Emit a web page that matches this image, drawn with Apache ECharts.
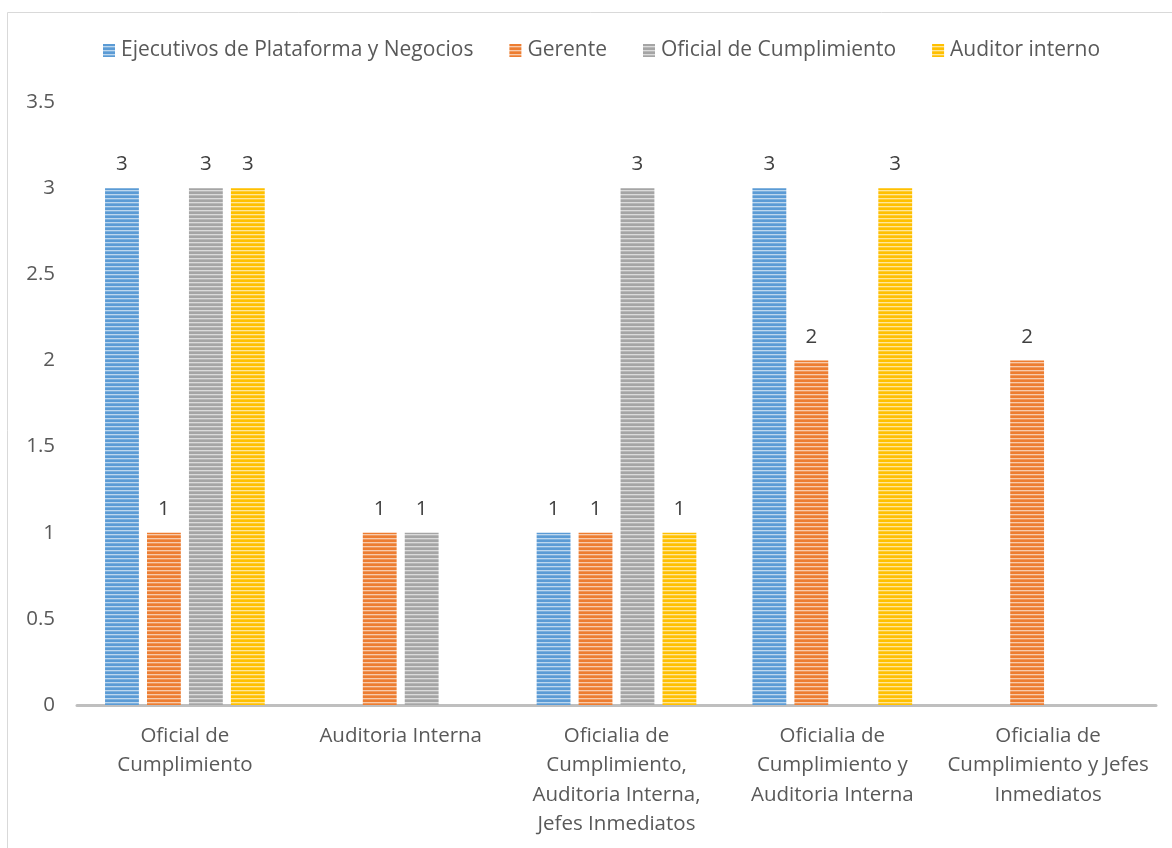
<!DOCTYPE html>
<html>
<head>
<meta charset="utf-8">
<script src="https://cdn.jsdelivr.net/npm/echarts@6/dist/echarts.min.js"></script>
<style>
  html, body { margin: 0; padding: 0; background: #fff; }
  #chart { width: 1172px; height: 848px; }
</style>
</head>
<body>
<div id="chart"></div>
<script>
// Categories along the x axis
const categories = [
  'Oficial de\nCumplimiento',
  'Auditoria Interna',
  'Oficialia de\nCumplimiento,\nAuditoria Interna,\nJefes Inmediatos',
  'Oficialia de\nCumplimiento y\nAuditoria Interna',
  'Oficialia de\nCumplimiento y Jefes\nInmediatos'
];

// Series values (null = no bar)
const ejecutivos = [3, null, 1, 3, null];
const gerente = [1, 1, 1, 2, 2];
const oficial = [3, 1, 3, null, null];
const auditor = [3, null, 1, 3, null];

const seriesNames = ['Ejecutivos de Plataforma y Negocios', 'Gerente', 'Oficial de Cumplimiento', 'Auditor interno'];
const seriesColors = ['#5B9BD5', '#ED7D31', '#A5A5A5', '#FFC000'];

const FONT = '"Open Sans", sans-serif';
const FS = 20.5;

// Horizontal stripe fill for each bar colour
function stripes(hex) {
  const c = document.createElement('canvas');
  c.width = 4; c.height = 4;
  const ctx = c.getContext('2d');
  ctx.fillStyle = hex;
  ctx.fillRect(0, 0, 4, 4);
  ctx.fillStyle = 'rgba(255,255,255,0.6)';
  ctx.fillRect(0, 2, 4, 1);
  ctx.fillStyle = 'rgba(255,255,255,0.2)';
  ctx.fillRect(0, 3, 4, 1);
  return { image: c, repeat: 'repeat' };
}

const data = [ejecutivos, gerente, oficial, auditor];

const chart = echarts.init(document.getElementById('chart'), null, { renderer: 'canvas' });
chart.setOption({
  animation: false,
  backgroundColor: '#fff',
  graphic: [{
    type: 'rect',
    shape: { x: 7.5, y: 12.5, width: 1200, height: 900 },
    style: { fill: 'none', stroke: '#D9D9D9', lineWidth: 1 },
    silent: true
  }],
  legend: {
    top: 40,
    left: 103,
    padding: 0,
    icon: 'rect',
    itemWidth: 12,
    itemHeight: 13,
    itemGap: 36,
    textStyle: { fontFamily: FONT, fontSize: 21, color: '#595959', padding: [0, 0, 0, 1] },
    data: seriesNames
  },
  grid: { left: 77, right: 16, top: 102, bottom: 143 },
  xAxis: {
    type: 'category',
    data: categories,
    axisLine: { show: true, lineStyle: { color: '#BFBFBF', width: 3 } },
    axisTick: { show: false },
    axisLabel: {
      interval: 0,
      margin: 16,
      fontFamily: FONT,
      fontSize: FS,
      lineHeight: 29.5,
      color: '#595959'
    }
  },
  yAxis: {
    type: 'value',
    min: 0,
    max: 3.5,
    interval: 0.5,
    axisLine: { show: false },
    axisTick: { show: false },
    splitLine: { show: false },
    axisLabel: { margin: 22, fontFamily: FONT, fontSize: FS, color: '#595959' }
  },
  series: seriesNames.map((name, i) => ({
    name: name,
    type: 'bar',
    data: data[i],
    barGap: '24%',
    barCategoryGap: '26%',
    itemStyle: { color: stripes(seriesColors[i]) },
    label: {
      show: true,
      position: 'top',
      distance: 13,
      fontFamily: FONT,
      fontSize: FS,
      color: '#404040'
    }
  }))
});
</script>
</body>
</html>
